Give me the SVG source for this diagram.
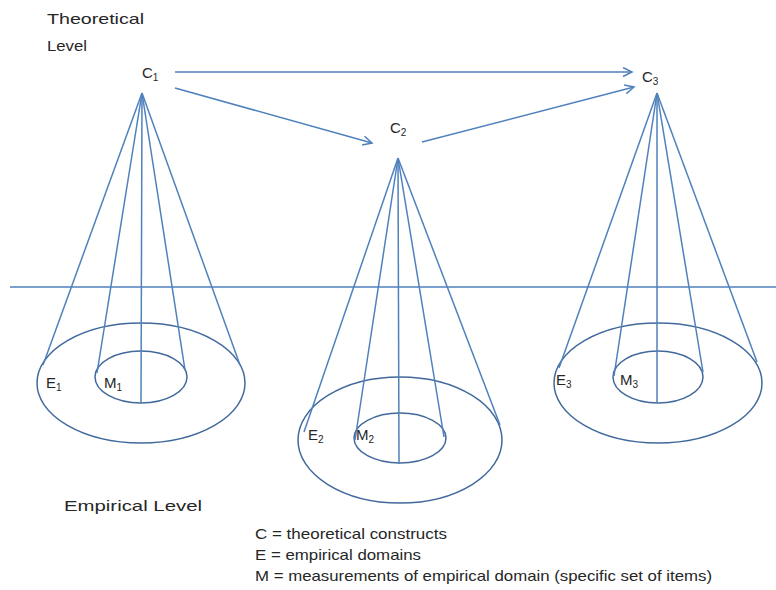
<svg xmlns="http://www.w3.org/2000/svg" width="776" height="590" viewBox="0 0 776 590">
<defs>
<style>
.ln{stroke:#4f81bd;stroke-width:1.5;fill:none}
.el{stroke:#41699c;stroke-width:1.5;fill:none}
.t{font-family:"Liberation Sans",Arial,sans-serif;font-size:15px;fill:#262626}
.s{font-size:10px}
</style>
<marker id="ah" markerWidth="12" markerHeight="12" refX="10" refY="5" orient="auto" markerUnits="userSpaceOnUse">
<path d="M1,0.5 L10,5 L1,9.5" fill="none" stroke="#4f81bd" stroke-width="1.5"/>
</marker>
</defs>
<rect width="776" height="590" fill="#fff"/>
<line class="ln" x1="10" y1="287" x2="776" y2="287"/>
<text class="t" x="47" y="24" textLength="97" lengthAdjust="spacingAndGlyphs">Theoretical</text>
<text class="t" x="47" y="51" textLength="40" lengthAdjust="spacingAndGlyphs">Level</text>
<text class="t" x="64" y="511" textLength="138" lengthAdjust="spacingAndGlyphs">Empirical Level</text>
<g id="connectors">
<line class="ln" x1="175" y1="72" x2="632" y2="72" marker-end="url(#ah)"/>
<line class="ln" x1="175" y1="88" x2="372" y2="143" marker-end="url(#ah)"/>
<line class="ln" x1="422" y1="142" x2="634" y2="87" marker-end="url(#ah)"/>
</g>
<g id="cone1">
<text class="t" x="142" y="78">C<tspan class="s" dy="3">1</tspan></text>
<ellipse class="el" cx="141" cy="383" rx="104" ry="60"/>
<ellipse class="el" cx="141" cy="377" rx="46" ry="26"/>
<line class="ln" x1="142" y1="93" x2="43" y2="365"/>
<line class="ln" x1="142" y1="93" x2="240" y2="365"/>
<line class="ln" x1="142" y1="93" x2="97" y2="373"/>
<line class="ln" x1="142" y1="93" x2="185" y2="370"/>
<line class="ln" x1="142" y1="93" x2="141" y2="403"/>
<text class="t" x="46" y="388">E<tspan class="s" dy="3">1</tspan></text>
<text class="t" x="104" y="388">M<tspan class="s" dy="3">1</tspan></text>
</g>
<g id="cone2">
<text class="t" x="390" y="133">C<tspan class="s" dy="3">2</tspan></text>
<ellipse class="el" cx="400" cy="440" rx="102" ry="63"/>
<ellipse class="el" cx="400" cy="438" rx="46" ry="25"/>
<line class="ln" x1="398" y1="158" x2="304" y2="432"/>
<line class="ln" x1="398" y1="158" x2="500" y2="425"/>
<line class="ln" x1="398" y1="158" x2="355" y2="440"/>
<line class="ln" x1="398" y1="158" x2="444" y2="437"/>
<line class="ln" x1="398" y1="158" x2="399" y2="464"/>
<text class="t" x="308" y="440">E<tspan class="s" dy="3">2</tspan></text>
<text class="t" x="356" y="440">M<tspan class="s" dy="3">2</tspan></text>
</g>
<g id="cone3">
<text class="t" x="642" y="82">C<tspan class="s" dy="3">3</tspan></text>
<ellipse class="el" cx="658" cy="383" rx="104" ry="60"/>
<ellipse class="el" cx="658" cy="377" rx="45" ry="26"/>
<line class="ln" x1="657" y1="93" x2="559" y2="368"/>
<line class="ln" x1="657" y1="93" x2="757" y2="362"/>
<line class="ln" x1="657" y1="93" x2="614" y2="376"/>
<line class="ln" x1="657" y1="93" x2="703" y2="372"/>
<line class="ln" x1="657" y1="93" x2="657" y2="403"/>
<text class="t" x="556" y="385">E<tspan class="s" dy="3">3</tspan></text>
<text class="t" x="620" y="385">M<tspan class="s" dy="3">3</tspan></text>
</g>
<g id="legend">
<text class="t" x="255" y="539" textLength="192" lengthAdjust="spacingAndGlyphs">C = theoretical constructs</text>
<text class="t" x="255" y="560" textLength="166" lengthAdjust="spacingAndGlyphs">E = empirical domains</text>
<text class="t" x="255" y="581" textLength="457" lengthAdjust="spacingAndGlyphs">M = measurements of empirical domain (specific set of items)</text>
</g>
</svg>
